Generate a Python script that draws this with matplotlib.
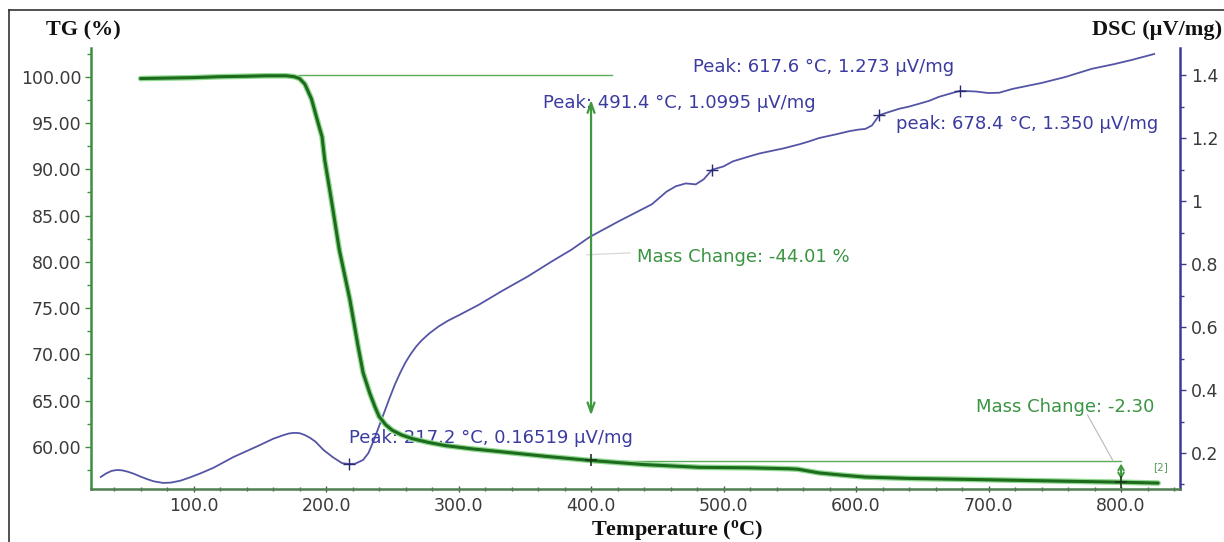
import matplotlib
matplotlib.use("Agg")
import matplotlib.pyplot as plt
from matplotlib.lines import Line2D
from matplotlib.ticker import MultipleLocator, FixedLocator, FormatStrFormatter

# ---- TG curve (mass %, vs temperature °C)
tg_temp = [60, 80, 100, 120, 140, 155, 170, 176, 180, 184, 189, 194, 197, 199,
           204, 210, 218, 224, 228, 233, 237, 240, 245, 250, 257, 265, 277, 290,
           310, 331, 365, 399, 440, 482, 520, 549, 556, 562, 572, 590, 607, 640,
           683, 740, 798, 828]
tg_mass = [99.8, 99.85, 99.9, 100.0, 100.05, 100.1, 100.1, 100.0, 99.8, 99.2,
           97.6, 95.0, 93.5, 91.0, 86.7, 81.3, 75.9, 71.0, 68.0, 65.8, 64.3,
           63.3, 62.4, 61.8, 61.3, 60.9, 60.5, 60.15, 59.8, 59.5, 59.0, 58.55,
           58.1, 57.8, 57.75, 57.65, 57.6, 57.45, 57.2, 56.95, 56.75, 56.6,
           56.5, 56.35, 56.2, 56.1]

# ---- DSC curve (µV/mg, vs temperature °C)
dsc_temp = [30, 34, 38, 42, 46, 50, 55, 60, 65, 70, 77, 83, 90, 97, 105, 115,
            130, 150, 160, 168, 172, 176, 180, 184, 188, 192, 198, 205, 212,
            217.2, 222, 228, 232, 236, 240, 244, 248, 252, 256, 260, 264, 268,
            272, 278, 285, 292, 300, 315, 333, 352, 371, 385, 399, 421, 446,
            457, 464, 471.5, 479, 485, 491.4, 500, 507, 518, 527, 537, 545, 557,
            565, 572, 585, 595, 602, 607, 612, 617.6, 625, 632.5, 640, 647.6,
            655, 662.6, 670, 678.4, 690, 700, 708, 718, 740, 758, 778, 795, 808,
            825]
dsc_signal = [0.124, 0.135, 0.143, 0.146, 0.145, 0.141, 0.134, 0.125, 0.117,
              0.11, 0.105, 0.106, 0.112, 0.122, 0.135, 0.153, 0.187, 0.225,
              0.245, 0.257, 0.262, 0.264, 0.263, 0.257, 0.248, 0.236, 0.21,
              0.187, 0.168, 0.16519, 0.166, 0.178, 0.2, 0.24, 0.285, 0.33,
              0.375, 0.418, 0.455, 0.488, 0.515, 0.538, 0.557, 0.58, 0.602,
              0.62, 0.637, 0.67, 0.715, 0.76, 0.81, 0.845, 0.886, 0.936, 0.99,
              1.03, 1.047, 1.056, 1.053, 1.069, 1.0995, 1.11, 1.126, 1.14, 1.151,
              1.16, 1.167, 1.18, 1.19, 1.2, 1.212, 1.222, 1.227, 1.229, 1.24,
              1.273, 1.283, 1.293, 1.3, 1.309, 1.318, 1.331, 1.34, 1.35, 1.348,
              1.343, 1.344, 1.356, 1.375, 1.394, 1.42, 1.435, 1.448, 1.467]

# ---- DSC peak evaluations
peak_temp = [217.2, 491.4, 617.6, 678.4]
peak_signal = [0.16519, 1.0995, 1.273, 1.350]
peak_labels = ["Peak: 217.2 °C, 0.16519 µV/mg",
               "Peak: 491.4 °C, 1.0995 µV/mg",
               "Peak: 617.6 °C, 1.273 µV/mg",
               "peak: 678.4 °C, 1.350 µV/mg"]

# ---- TG mass-change evaluations
step1_label = "Mass Change: -44.01 %"
step2_label = "Mass Change: -2.30"
step2_temp = 800.0
step2_level = 58.5
step2_change = -2.30

x_ticks = [100, 200, 300, 400, 500, 600, 700, 800]
tg_ticks = [60, 65, 70, 75, 80, 85, 90, 95, 100]
dsc_ticks = [0.2, 0.4, 0.6, 0.8, 1.0, 1.2, 1.4]

GREEN_DARK = "#1d6b1d"
GREEN_GLOW = "#8fd88f"
GREEN_THIN = "#5aab5a"
GREEN_TEXT = "#3a9443"
BLUE = "#5555a6"
BLUE_TEXT = "#3b3ba0"
TICK_TXT = "#3a3a3a"

plt.rcParams["font.family"] = ["DejaVu Sans"]
plt.rcParams["mathtext.fontset"] = "custom"
plt.rcParams["mathtext.rm"] = "Liberation Serif:bold"
plt.rcParams["mathtext.bf"] = "Liberation Serif:bold"
plt.rcParams["mathtext.it"] = "Liberation Serif:bold"

fig = plt.figure(figsize=(12.24, 5.42), dpi=100)
ax = fig.add_axes([91 / 1224, 1 - 489 / 542, (1180 - 91) / 1224, (489 - 48) / 542])
ax2 = ax.twinx()

ax.set_xlim(22.6, 844.5)
ax.set_ylim(55.46, 103.1)
ax2.set_ylim(0.0857, 1.486)

# curves
ax2.plot(dsc_temp, dsc_signal, color=BLUE, lw=1.3, zorder=2)
ax.plot(tg_temp, tg_mass, color=GREEN_GLOW, lw=4.0, solid_capstyle="round", zorder=3)
ax.plot(tg_temp, tg_mass, color=GREEN_DARK, lw=2.2, solid_capstyle="round", zorder=4)
ax.set_zorder(ax2.get_zorder() + 1)
ax.patch.set_visible(False)

# peak markers and labels
ax2.plot(peak_temp, peak_signal, ls="none", marker="+", ms=9, mew=1.0,
         color="#2a2a70", zorder=5)
label_pos = [(217.4, 0.248), (363.8, 1.311), (477.0, 1.425), (630.0, 1.244)]
for (tx, ty), lab in zip(label_pos, peak_labels):
    ax2.text(tx, ty, lab, color=BLUE_TEXT, fontsize=13, ha="left", va="center",
             zorder=6)

# first mass step: baseline and arrow
ax.plot([179, 416], [100.15, 100.15], color=GREEN_THIN, lw=1.0, zorder=2)
ax.annotate("", xy=(400, 63.1), xytext=(400, 97.8),
            arrowprops=dict(arrowstyle="<->,head_length=0.7,head_width=0.25",
                            color="#3f9a3f", lw=1.6), zorder=3)
ax.plot([397, 429.4], [80.76, 80.97], color="#d8d8d8", lw=0.9, zorder=2)
ax.text(434.7, 80.5, step1_label, color=GREEN_TEXT, fontsize=13,
        ha="left", va="center")

# second mass step: baseline, arrow, markers
ax.plot([400, step2_temp], [step2_level, step2_level], color=GREEN_THIN,
        lw=1.0, zorder=2)
ax.annotate("", xy=(step2_temp, step2_level + step2_change),
            xytext=(step2_temp, step2_level),
            arrowprops=dict(arrowstyle="<->,head_length=0.35,head_width=0.2",
                            color="#3f9a3f", lw=1.4), zorder=5)
ax.plot([400, step2_temp], [58.55, step2_level + step2_change], ls="none",
        marker="+", ms=9, mew=1.2, color="#1a3a1a", zorder=6)
ax.plot([774.7, 793.6], [63.46, 58.6], color="#b8b8b8", lw=0.8, zorder=2)
ax.text(690.6, 64.3, step2_label, color=GREEN_TEXT, fontsize=13,
        ha="left", va="center")
ax.text(824, 57.8, "[2]", color="#5a9a5a", fontsize=7.5, ha="left", va="center")

# axes styling
ax.spines["top"].set_visible(False)
ax2.spines["top"].set_visible(False)
ax2.spines["left"].set_visible(False)
ax2.spines["bottom"].set_visible(False)
ax.spines["right"].set_visible(False)
ax.spines["left"].set_color("#3f8f3f")
ax.spines["left"].set_linewidth(1.8)
ax.spines["bottom"].set_color("#4f7f4f")
ax.spines["bottom"].set_linewidth(1.8)
ax2.spines["right"].set_color("#3c3c96")
ax2.spines["right"].set_linewidth(1.8)

ax.xaxis.set_major_locator(FixedLocator(x_ticks))
ax.xaxis.set_minor_locator(MultipleLocator(20))
ax.xaxis.set_major_formatter(FormatStrFormatter("%.1f"))
ax.yaxis.set_major_locator(FixedLocator(tg_ticks))
ax.yaxis.set_minor_locator(MultipleLocator(2.5))
ax.yaxis.set_major_formatter(FormatStrFormatter("%.2f"))
ax2.yaxis.set_major_locator(FixedLocator(dsc_ticks))
ax2.yaxis.set_minor_locator(MultipleLocator(0.1))
ax2.yaxis.set_major_formatter(FormatStrFormatter("%g"))

ax.tick_params(axis="x", which="major", direction="inout", length=5, width=1,
               color="#555555", labelsize=12.5, labelcolor=TICK_TXT, pad=3)
ax.tick_params(axis="x", which="minor", direction="inout", length=3, width=1,
               color="#555555")
ax.tick_params(axis="y", which="major", direction="out", length=4, width=1,
               color="#3f8f3f", labelsize=12.5, labelcolor=TICK_TXT, pad=3)
ax.tick_params(axis="y", which="minor", direction="out", length=3, width=1,
               color="#3f8f3f")
ax2.tick_params(axis="y", which="major", direction="out", length=4, width=1,
                color="#3c3c96", labelsize=12.5, labelcolor=TICK_TXT, pad=4)
ax2.tick_params(axis="y", which="minor", direction="out", length=3, width=1,
                color="#3c3c96")

# axis titles
serif = dict(family="Liberation Serif", weight="bold", fontsize=16, color="#111111")
fig.text(83 / 1224, 1 - 30 / 542, "TG (%)", ha="center", va="center", **serif)
fig.text(1222 / 1224, 1 - 30 / 542, "DSC (µV/mg)", ha="right", va="center", **serif)
fig.text(677 / 1224, 1 - 530 / 542, r"Temperature ($^{\mathbf{o}}$C)",
         ha="center", va="center", **serif)

# outer frame
fig.add_artist(Line2D([9 / 1224, 1.0], [1 - 10 / 542, 1 - 10 / 542],
                      transform=fig.transFigure, color="#333333", lw=1.2))
fig.add_artist(Line2D([9 / 1224, 9 / 1224], [0.0, 1 - 10 / 542],
                      transform=fig.transFigure, color="#333333", lw=1.2))

fig.savefig("out.png", dpi=100)
